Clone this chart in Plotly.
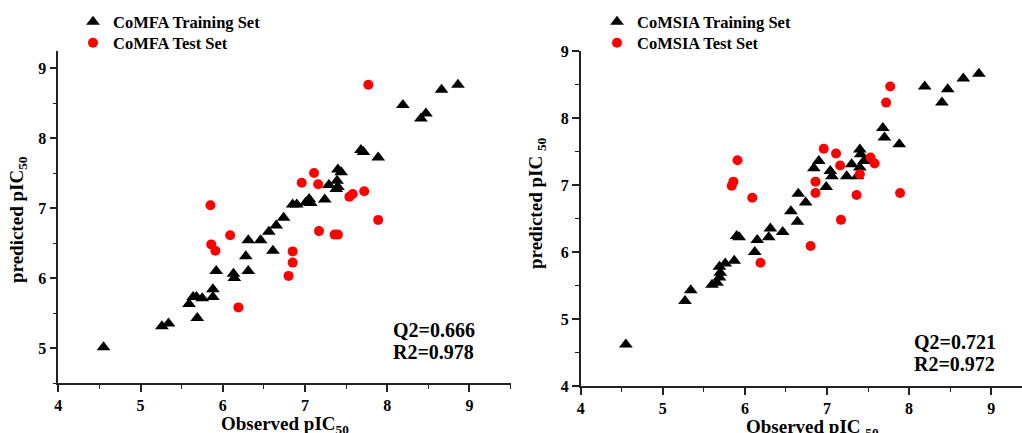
import plotly.graph_objects as go

# ---- CoMFA (left panel) ----
comfa_train_obs = [4.55, 5.26, 5.34, 5.59, 5.64, 5.68, 5.75, 5.69, 5.88, 5.88, 5.92, 6.13, 6.14, 6.31,
                   6.28, 6.31, 6.46, 6.56, 6.61, 6.65, 6.74, 6.85, 6.90, 7.01, 7.05, 7.07, 7.24, 7.29,
                   7.38, 7.39, 7.40, 7.44, 7.40, 7.68, 7.71, 7.89, 8.19, 8.41, 8.47, 8.66, 8.86]
comfa_train_pred = [5.01, 5.31, 5.35, 5.63, 5.73, 5.73, 5.71, 5.43, 5.84, 5.73, 6.10, 6.06, 6.00, 6.10,
                    6.31, 6.54, 6.54, 6.66, 6.39, 6.75, 6.86, 7.05, 7.05, 7.08, 7.13, 7.07, 7.12, 7.33,
                    7.27, 7.39, 7.55, 7.51, 7.30, 7.83, 7.80, 7.72, 8.47, 8.28, 8.35, 8.69, 8.76]
comfa_test_obs = [7.77, 7.11, 6.96, 7.16, 7.54, 7.58, 7.72, 5.85, 6.09, 5.86, 5.91, 7.17, 7.36, 7.40,
                  7.89, 6.85, 6.85, 6.80, 6.19]
comfa_test_pred = [8.76, 7.50, 7.36, 7.34, 7.16, 7.20, 7.24, 7.04, 6.61, 6.48, 6.39, 6.67, 6.62, 6.62,
                   6.83, 6.38, 6.22, 6.03, 5.58]

# ---- CoMSIA (right panel) ----
comsia_train_obs = [4.55, 5.27, 5.34, 5.60, 5.66, 5.69, 5.70, 5.69, 5.76, 5.87, 5.90, 5.93, 6.12, 6.15,
                    6.29, 6.31, 6.46, 6.64, 6.56, 6.74, 6.65, 6.99, 6.84, 6.90, 7.06, 7.04, 7.24, 7.30,
                    7.37, 7.40, 7.41, 7.40, 7.45, 7.68, 7.70, 7.88, 8.19, 8.40, 8.47, 8.66, 8.85]
comsia_train_pred = [4.62, 5.27, 5.43, 5.51, 5.54, 5.62, 5.69, 5.78, 5.83, 5.87, 6.24, 6.22, 6.00, 6.18,
                     6.22, 6.35, 6.30, 6.45, 6.61, 6.74, 6.87, 6.97, 7.25, 7.36, 7.13, 7.21, 7.13, 7.31,
                     7.13, 7.53, 7.46, 7.26, 7.36, 7.85, 7.71, 7.61, 8.47, 8.23, 8.43, 8.59, 8.66]
comsia_test_obs = [7.77, 7.72, 6.96, 7.11, 7.16, 7.53, 7.58, 7.40, 6.86, 6.86, 7.36, 7.89, 7.17, 5.91,
                   5.86, 5.84, 6.09, 6.80, 6.19]
comsia_test_pred = [8.47, 8.23, 7.54, 7.47, 7.29, 7.41, 7.32, 7.16, 7.05, 6.88, 6.85, 6.88, 6.48, 7.37,
                    7.05, 6.99, 6.81, 6.09, 5.84]

FONT = "Liberation Serif"
W, H = 1022, 433

fig = go.Figure()
fig.add_trace(go.Scatter(x=comfa_train_obs, y=comfa_train_pred, mode="markers", name="CoMFA Training Set",
                         marker=dict(symbol="triangle-up", size=12, color="black"), xaxis="x", yaxis="y",
                         legend="legend"))
fig.add_trace(go.Scatter(x=comfa_test_obs, y=comfa_test_pred, mode="markers", name="CoMFA Test Set",
                         marker=dict(symbol="circle", size=10, color="#ff0000"), xaxis="x", yaxis="y",
                         legend="legend2"))
fig.add_trace(go.Scatter(x=comsia_train_obs, y=comsia_train_pred, mode="markers", name="CoMSIA Training Set",
                         marker=dict(symbol="triangle-up", size=12, color="black"), xaxis="x2", yaxis="y2",
                         legend="legend3"))
fig.add_trace(go.Scatter(x=comsia_test_obs, y=comsia_test_pred, mode="markers", name="CoMSIA Test Set",
                         marker=dict(symbol="circle", size=10, color="#ff0000"), xaxis="x2", yaxis="y2",
                         legend="legend4"))

tickfont = dict(family=FONT, size=16, color="black", weight="bold")
titlefont = dict(family=FONT, size=19, color="black", weight="bold")
axis_common = dict(showgrid=False, zeroline=False, showline=True, linecolor="#222", linewidth=1.5,
                   ticks="outside", ticklen=7, tickwidth=1.5, tickcolor="#222", tickfont=tickfont,
                   dtick=1, automargin=False,
                   minor=dict(dtick=0.5, ticks="outside", ticklen=4, tickwidth=1.2, tickcolor="#222"))

legfont = dict(family=FONT, size=16.5, color="black", weight="bold")


def leg(xp, yp):
    return dict(x=xp / W, y=1 - yp / H, xanchor="left", yanchor="middle", bgcolor="rgba(0,0,0,0)",
                font=legfont)


fig.update_layout(
    width=W, height=H, margin=dict(l=0, r=0, t=0, b=0, autoexpand=False),
    paper_bgcolor="white", plot_bgcolor="white",
    xaxis=dict(domain=[58.3 / W, 510.6 / W], range=[4, 9.5], anchor="y", tick0=4, **axis_common),
    yaxis=dict(domain=[1 - 383 / H, 1 - 50.5 / H], range=[4.5, 9.25], anchor="x", tick0=4, **axis_common),
    xaxis2=dict(domain=[580.7 / W, 1.0], range=[4, 9.375], anchor="y2", tick0=4, **axis_common),
    yaxis2=dict(domain=[1 - 386 / H, 1 - 51 / H], range=[4, 9], anchor="x2", tick0=4, **axis_common),
    legend=leg(73, 22), legend2=leg(73, 43), legend3=leg(597, 22), legend4=leg(597, 43),
    showlegend=True,
)

# axis titles
for txt, xp, yp, ang, ya in [("Observed pIC<sub>50</sub>", 285, 411, 0, "top"),
                             ("predicted pIC<sub>50</sub>", 18, 220, -90, "middle"),
                             ("Observed pIC <sub>50</sub>", 812, 414, 0, "top"),
                             ("predicted pIC <sub>50</sub>", 537, 203, -90, "middle")]:
    fig.add_annotation(text=txt, xref="paper", yref="paper", x=xp / W, y=1 - yp / H,
                       xanchor="center", yanchor=ya, textangle=ang, showarrow=False, font=titlefont)

annfont = dict(family=FONT, size=20, color="black", weight="bold")
for txt, xp, yp in [("Q2=0.666", 391, 330), ("R2=0.978", 391, 352),
                    ("Q2=0.721", 912, 342), ("R2=0.972", 912, 364)]:
    fig.add_annotation(text=txt, xref="paper", yref="paper", x=xp / W, y=1 - yp / H,
                       xanchor="left", yanchor="middle", showarrow=False, font=annfont)

fig.write_html("out.html", config={"displayModeBar": False},
               post_script="document.body.style.margin='0px';")
